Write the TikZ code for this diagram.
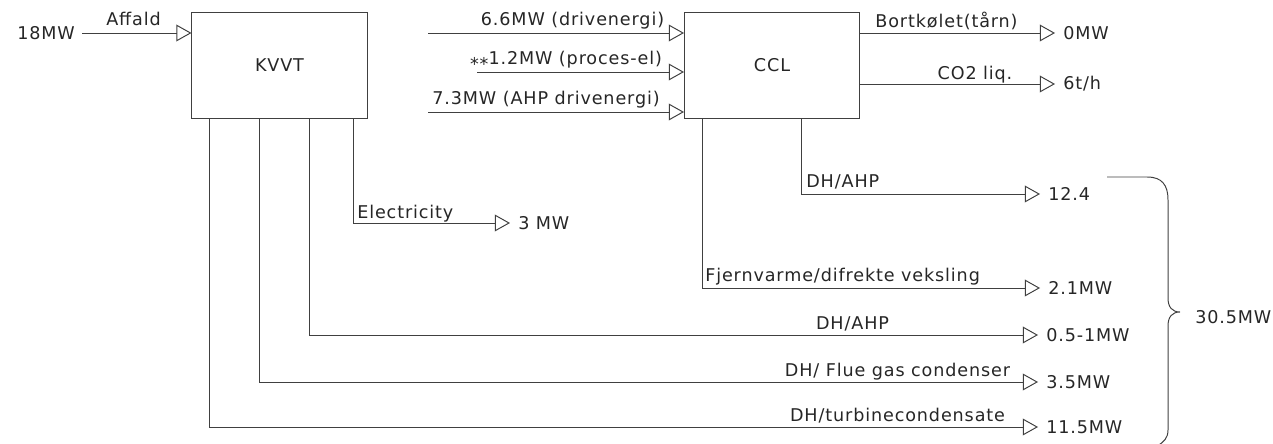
\documentclass[tikz,border=0pt]{standalone}
\usepackage{fontspec}
\setmainfont{DejaVu Sans}[LetterSpace=5]
\usetikzlibrary{arrows.meta}

\begin{document}
\begin{tikzpicture}[x=0.025cm, y=-0.025cm, font=\fontsize{12.5}{15}\selectfont,
    every node/.style={text=black!85},
    flow/.style={draw=black!75, line width=0.7pt, -{Triangle[open, length=3.8mm, width=4.2mm]}},
    unit/.style={draw=black!75, line width=0.7pt, minimum width=4.375cm, minimum height=2.625cm, inner sep=0pt},
    lbl/.style={inner sep=0pt, anchor=base},
    val/.style={anchor=west, inner xsep=2mm, inner ysep=0pt}]
  \useasboundingbox (0,0) rectangle (1273,444);
  % Units
  \node[unit] (kvvt) at (279.5,65.5) {KVVT};
  \node[unit] (ccl) at (772,65.5) {CCL};
  % Fuel in
  \node[anchor=west, inner sep=0pt] (fuel) at (17,33) {18MW};
  \coordinate (aff) at (82,33);
  \draw[flow] (aff) -- (aff -| kvvt.west);
  \node[lbl] (lAff) at (133.5,26) {Affald};
  % Drive energy into CCL
  \coordinate (d1) at (428,33);
  \coordinate (d2) at (477,72);
  \coordinate (d3) at (428,112);
  \draw[flow] (d1) -- (d1 -| ccl.west);
  \draw[flow] (d2) -- (d2 -| ccl.west);
  \draw[flow] (d3) -- (d3 -| ccl.west);
  \node[lbl] (lD1) at (572.5,26) {6.6MW (drivenergi)};
  \node[lbl] (lD2) at (566,65) {\raisebox{-0.3em}{**}1.2MW (proces-el)};
  \node[lbl] (lD3) at (546,105) {7.3MW (AHP drivenergi)};
  % CCL outputs
  \node[val] (o1) at (1055,33) {0MW};
  \node[val] (o2) at (1055,84) {6t/h};
  \draw[flow] (ccl.east |- o1.west) -- (o1.west);
  \draw[flow] (ccl.east |- o2.west) -- (o2.west);
  \node[lbl] (lO1) at (946.5,28) {Bortkølet(tårn)};
  \node[lbl] (lO2) at (975,80) {CO2 liq.};
  % District heating from CCL
  \node[val] (h1) at (1040,194) {12.4};
  \node[val] (h2) at (1040,288) {2.1MW};
  \draw[flow] ([xshift=7.25mm]ccl.south) |- (h1.west);
  \draw[flow] ([xshift=-17.5mm]ccl.south) |- (h2.west);
  \node[lbl, anchor=base west] (lH1) at (806,188) {DH/AHP};
  \node[lbl, anchor=base west] (lH2) at (705,282) {Fjernvarme/difrekte veksling};
  % KVVT outputs
  \node[val] (el) at (510,223) {3 MW};
  \node[val] (h3) at (1038,335) {0.5-1MW};
  \node[val] (h4) at (1038,382) {3.5MW};
  \node[val] (h5) at (1038,427) {11.5MW};
  \draw[flow] ([xshift=18.4mm]kvvt.south) |- (el.west);
  \draw[flow] ([xshift=7.6mm]kvvt.south) |- (h3.west);
  \draw[flow] ([xshift=-5.1mm]kvvt.south) |- (h4.west);
  \draw[flow] ([xshift=-17.6mm]kvvt.south) |- (h5.west);
  \node[lbl, anchor=base west] (lEl) at (357,219) {Electricity};
  \node[lbl] (lH3) at (852.5,330) {DH/AHP};
  \node[lbl] (lH4) at (897.5,376) {DH/ Flue gas condenser};
  \node[lbl] (lH5) at (897.5,421) {DH/turbinecondensate};
  % Sum brace
  \draw[black!75, line width=0.7pt] (1107,177) -- (1147,177)
    .. controls (1162,177) and (1168,185) .. (1168,200) -- (1168,298)
    .. controls (1168,307) and (1172,312) .. (1180,312)
    .. controls (1172,312) and (1168,317) .. (1168,326) -- (1168,430)
    .. controls (1168,438) and (1164,442) .. (1157,446);
  \node[anchor=west, inner sep=0pt] (total) at (1195,317) {30.5MW};
\end{tikzpicture}
\end{document}
